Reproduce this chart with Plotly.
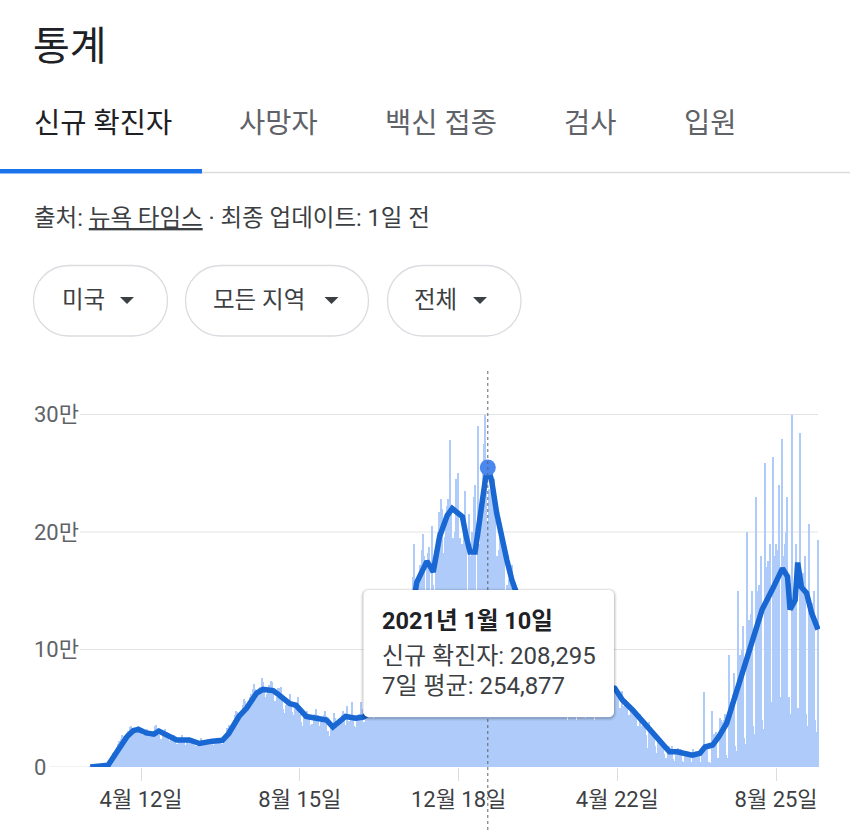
import plotly.graph_objects as go
import pandas as pd

# ------------------------------------------------------------------
# DATA  (US daily new cases, thousands; each row = one week Tue..Mon)
# ------------------------------------------------------------------
first_day = "2020-03-03"

wave_spring_2020 = [
    0.02, 0.03, 0.05, 0.07, 0.1, 0.13, 0.2,
    0.25, 0.3, 0.4, 0.55, 0.7, 0.9, 1.1,
    3, 5, 7, 9.5, 11.5, 13, 15,
    17, 20, 22, 24, 27, 26, 24,
    27, 29, 31, 34, 35, 31, 30,
    31, 32, 33, 35, 33, 28, 27,
    27, 29, 31, 32, 30, 26, 25,
    27, 28, 35, 36, 33, 27, 23,
    24, 27, 29, 32, 28, 25, 20,
    22, 24, 27, 27, 25, 20, 18,
    21, 21, 27, 25, 24, 19, 21,
    20, 22, 25, 24, 22, 19, 18,
    16, 19, 22, 25, 23, 19, 20,
    22, 21, 24, 23, 24, 20, 19,
    21, 22, 24, 25, 25, 20, 20,
]
wave_summer_2020 = [
    24, 26, 29, 33, 36, 32, 35,
    37, 40, 44, 48, 47, 42, 43,
    48, 53, 58, 56, 51, 48, 50,
    60, 62, 66, 71, 66, 60, 61,
    67, 68, 76, 72, 65, 60, 62,
    64, 70, 73, 72, 65, 56, 56,
    60, 67, 67, 68, 58, 49, 46,
    53, 55, 56, 62, 54, 47, 44,
    53, 52, 51, 60, 45, 38, 35,
    44, 46, 45, 48, 43, 34, 36,
    37, 43, 45, 49, 44, 34, 35,
    40, 42, 44, 48, 43, 31, 24,
    26, 35, 36, 46, 42, 34, 34,
    38, 38, 44, 48, 44, 36, 52,
    39, 39, 44, 55, 42, 35, 34,
]
wave_winter = [
    40, 44, 45, 55, 49, 35, 38,
    44, 51, 56, 58, 49, 45, 42,
    51, 59, 64, 70, 53, 48, 66,
    60, 62, 75, 82, 78, 58, 66,
    74, 80, 91, 100, 82, 70, 90,
    94, 105, 121, 130, 126, 106, 125,
    138, 143, 162, 190, 160, 134, 160,
    160, 172, 185, 198, 180, 142, 175,
    182, 187, 112, 205, 155, 140, 175,
    185, 200, 217, 228, 220, 182, 196,
    216, 222, 228, 278, 222, 190, 195,
    200, 245, 235, 250, 195, 185, 190,
    200, 235, 195, 105, 215, 150, 180,
    200, 230, 240, 145, 290, 160, 190,
    230, 255, 275, 300, 258, 208.295, 237,
    228, 235, 240, 245, 210, 180, 175,
    185, 195, 200, 190, 175, 145, 155,
    155, 160, 165, 172, 145, 118, 135,
    115, 120, 125, 135, 105, 90, 105,
    95, 95, 100, 105, 85, 70, 65,
    62, 65, 75, 78, 72, 58, 66,
]
wave_spring_2021 = [
    72, 75, 77, 75, 62, 50, 55,
    58, 67, 68, 66, 60, 42, 46,
    57, 58, 60, 63, 50, 40, 55,
    54, 59, 58, 61, 50, 40, 65,
    55, 85, 64, 68, 60, 42, 65,
    62, 68, 72, 68, 55, 40, 90,
    68, 75, 77, 81, 70, 47, 72,
    72, 75, 78, 72, 58, 42, 78,
    63, 62, 65, 60, 50, 34, 65,
    52, 55, 57, 55, 44, 28, 52,
    46, 48, 47, 45, 35, 21, 45,
    35, 37, 37, 34, 27, 16, 38,
    28, 28, 30, 27, 18, 12, 25,
    21, 22, 22, 20, 11, 8, 8,
    13, 18, 16, 18, 7, 5, 14,
    15, 16, 15, 15, 5, 4, 14,
    13, 13, 13, 12, 4, 3, 15.5,
]
wave_delta_2021 = [
    13, 14, 14, 13, 4, 3, 16,
    64, 14, 15, 18, 4, 3, 3,
    48, 28, 28, 30, 8, 6, 42,
    40, 38, 40, 45, 10, 8, 95,
    55, 58, 62, 80, 18, 14, 150,
    85, 95, 100, 120, 25, 20, 200,
    120, 125, 130, 150, 35, 28, 230,
    140, 150, 155, 180, 40, 32, 259,
    165, 170, 175, 190, 55, 45, 264,
    180, 190, 185, 240, 60, 45, 279,
    180, 190, 200, 230, 60, 45, 40,
    300, 150, 160, 190, 50, 35, 284,
    150, 165, 160, 180, 45, 35, 207,
    130, 140, 135, 150, 40, 30, 193,
]

avg_dates = [
    "2020-03-03", "2020-03-10", "2020-03-17", "2020-03-24", "2020-04-01", "2020-04-06",
    "2020-04-10", "2020-04-16", "2020-04-22", "2020-04-26", "2020-05-02", "2020-05-10",
    "2020-05-20", "2020-05-28", "2020-06-07", "2020-06-15", "2020-06-20", "2020-06-28",
    "2020-07-04", "2020-07-12", "2020-07-17", "2020-07-25", "2020-07-30", "2020-08-02",
    "2020-08-07", "2020-08-12", "2020-08-20", "2020-08-28", "2020-09-05", "2020-09-10",
    "2020-09-15", "2020-09-20", "2020-09-28", "2020-10-04", "2020-10-12", "2020-10-19",
    "2020-10-26", "2020-11-02", "2020-11-09", "2020-11-15", "2020-11-23", "2020-11-26",
    "2020-11-28", "2020-12-03", "2020-12-09", "2020-12-13", "2020-12-17", "2020-12-21",
    "2020-12-24", "2020-12-27", "2020-12-31", "2021-01-04", "2021-01-08", "2021-01-10",
    "2021-01-13", "2021-01-17", "2021-01-21", "2021-01-25", "2021-01-29", "2021-02-01",
    "2021-02-08", "2021-02-15", "2021-02-22", "2021-03-01", "2021-03-08", "2021-03-15",
    "2021-03-22", "2021-03-29", "2021-04-05", "2021-04-12", "2021-04-20", "2021-04-26",
    "2021-05-04", "2021-05-12", "2021-05-20", "2021-05-28", "2021-06-02", "2021-06-08",
    "2021-06-15", "2021-06-20", "2021-06-26", "2021-06-30", "2021-07-06", "2021-07-11",
    "2021-07-17", "2021-07-21", "2021-07-29", "2021-08-06", "2021-08-14", "2021-08-22",
    "2021-08-30", "2021-09-03", "2021-09-05", "2021-09-09", "2021-09-11", "2021-09-14",
    "2021-09-18", "2021-09-22", "2021-09-27",
]
avg_values = [
    0.0, 0.3, 1.5, 13, 26, 31,
    32, 29, 28, 30.5, 27, 23,
    23, 20, 22, 22.7, 28.5, 43,
    50, 63, 66, 65, 61, 58.5,
    54, 52.5, 43, 41.5, 40, 34,
    38.5, 43, 41.5, 42.5, 48, 58,
    68, 84, 115, 157, 175, 170,
    166, 196, 214, 220, 217, 213,
    196, 183, 183, 216, 244, 254.877,
    244, 216, 193, 176, 159, 150,
    115, 88, 68, 65, 60, 55,
    56, 63, 65, 70, 67, 57,
    48.5, 38.5, 28.7, 20, 13, 13,
    11.6, 10, 11.6, 17, 18.7, 26,
    37, 51, 77, 108, 134, 151,
    169, 162, 134, 142, 174, 153,
    148, 131, 117,
]

y_tick_vals = [0, 100, 200, 300]
y_tick_text = ["0", "10만", "20만", "30만"]
x_tick_vals = ["2020-04-12", "2020-08-15", "2020-12-18", "2021-04-22", "2021-08-25"]
x_tick_text = ["4월 12일", "8월 15일", "12월 18일", "4월 22일", "8월 25일"]

sel_date = "2021-01-10"
sel_title = "2021년 1월 10일"
sel_cases = "208,295"
sel_avg = 254.877

title_text = "통계"
tab_labels = ["신규 확진자", "사망자", "백신 접종", "검사", "입원"]
filter_labels = ["미국", "모든 지역", "전체"]

# ------------------------------------------------------------------
daily_k = wave_spring_2020 + wave_summer_2020 + wave_winter + wave_spring_2021 + wave_delta_2021
daily_dates = pd.date_range(first_day, periods=len(daily_k), freq="D")

FONT = "Roboto, 'Noto Sans CJK KR', 'Noto Sans', sans-serif"
W, H = 850, 830
L, R_EDGE, T, B = 33, 820, 400, 767
PW, PH = R_EDGE - L, B - T


def xp(px):
    return (px - L) / PW


def yp(py):
    return (B - py) / PH


def rrect(x0, y0, x1, y1, r):
    k = 0.5523 * r
    pts = [
        f"M{xp(x0 + r)},{yp(y0)}",
        f"L{xp(x1 - r)},{yp(y0)}",
        f"C{xp(x1 - r + k)},{yp(y0)} {xp(x1)},{yp(y0 + r - k)} {xp(x1)},{yp(y0 + r)}",
        f"L{xp(x1)},{yp(y1 - r)}",
        f"C{xp(x1)},{yp(y1 - r + k)} {xp(x1 - r + k)},{yp(y1)} {xp(x1 - r)},{yp(y1)}",
        f"L{xp(x0 + r)},{yp(y1)}",
        f"C{xp(x0 + r - k)},{yp(y1)} {xp(x0)},{yp(y1 - r + k)} {xp(x0)},{yp(y1 - r)}",
        f"L{xp(x0)},{yp(y0 + r)}",
        f"C{xp(x0)},{yp(y0 + r - k)} {xp(x0 + r - k)},{yp(y0)} {xp(x0 + r)},{yp(y0)}",
        "Z",
    ]
    return " ".join(pts)


fig = go.Figure()
fig.add_trace(go.Bar(
    x=daily_dates, y=daily_k,
    marker=dict(color="#aecbfa", line=dict(width=0)),
    hoverinfo="skip",
))
fig.add_trace(go.Scatter(
    x=avg_dates, y=avg_values, mode="lines",
    line=dict(color="#1967d2", width=5.5),
    hoverinfo="skip",
))
fig.add_trace(go.Scatter(
    x=[sel_date], y=[sel_avg], mode="markers",
    marker=dict(size=16, color="#4a87ee"),
    hoverinfo="skip",
))

# x range so that 2020-04-12 sits at pixel 141.1 and 1.27 px/day
px_per_day = 1.27
anchor = pd.Timestamp("2020-04-12")
x_start = anchor - pd.Timedelta(days=(141.1 - L) / px_per_day)
x_end = anchor + pd.Timedelta(days=(R_EDGE - 141.1) / px_per_day)

shapes = []
# gridlines
for v in y_tick_vals:
    shapes.append(dict(type="line", xref="paper", yref="y",
                       x0=xp(50 if v == 0 else 80), x1=xp(818), y0=v, y1=v,
                       line=dict(color="#e3e3e3", width=1), layer="below"))
# tab underline
shapes.append(dict(type="line", xref="paper", yref="paper", x0=xp(200), x1=xp(850),
                   y0=yp(172.5), y1=yp(172.5), line=dict(color="#dadce0", width=1.5)))
shapes.append(dict(type="rect", xref="paper", yref="paper", x0=xp(0), x1=xp(202),
                   y0=yp(173.5), y1=yp(169), fillcolor="#1a73e8", line=dict(width=0)))
# filter pills
pill_boxes = [(33.5, 167.5), (185.5, 368.5), (387.5, 521)]
tri_cx = [127, 331.5, 480]
for (a, b), tc in zip(pill_boxes, tri_cx):
    shapes.append(dict(type="path", xref="paper", yref="paper",
                       path=rrect(a, 265.5, b, 336, 35),
                       fillcolor="white", line=dict(color="#dadce0", width=1.3)))
    shapes.append(dict(type="path", xref="paper", yref="paper",
                       path=f"M{xp(tc - 7)},{yp(297)} L{xp(tc + 7)},{yp(297)} L{xp(tc)},{yp(304)} Z",
                       fillcolor="#3c4043", line=dict(width=0)))
# dotted hover line
shapes.append(dict(type="line", xref="x", yref="paper", x0=sel_date, x1=sel_date,
                   y0=yp(830), y1=yp(368), line=dict(color="#5f6368", width=1, dash="dot"),
                   layer="above"))
# tooltip card with soft shadow
for grow, alpha in [(3, 0.04), (2, 0.06), (1, 0.10)]:
    shapes.append(dict(type="path", xref="paper", yref="paper",
                       path=rrect(363.5 - grow, 590 - grow + 1, 614 + grow, 717 + grow + 1, 5 + grow),
                       fillcolor=f"rgba(0,0,0,{alpha})", line=dict(width=0), layer="above"))
shapes.append(dict(type="path", xref="paper", yref="paper",
                   path=rrect(363.5, 590, 614, 717, 5),
                   fillcolor="white", line=dict(width=0), layer="above"))

ann = []


def add_text(text, x, y, size, color, xanchor="left", bold=False, yref="paper"):
    ann.append(dict(text=f"<b>{text}</b>" if bold else text, x=x, y=y, xref="paper", yref=yref,
                    xanchor=xanchor, yanchor="middle", showarrow=False,
                    font=dict(family=FONT, size=size, color=color)))


add_text(title_text, xp(31), yp(46), 40, "#202124")
tab_x = [31.5, 236.5, 383, 562, 682]
for i, (lab, tx) in enumerate(zip(tab_labels, tab_x)):
    add_text(lab, xp(tx), yp(123), 28.5, "#202124" if i == 0 else "#5f6368")
add_text("출처: <span style='text-decoration:underline'>뉴욕 타임스</span> · 최종 업데이트: 1일 전",
         xp(31.5), yp(218), 23.5, "#3c4043")
for lab, cx in zip(filter_labels, [83, 258.5, 435.5]):
    add_text(lab, xp(cx), yp(300), 23.5, "#3c4043", xanchor="center")
for v, t in zip(y_tick_vals, y_tick_text):
    add_text(t, xp(31.5), v, 22, "#5f6368", yref="y")
add_text(sel_title, xp(379.5), yp(621), 23.5, "#202124", bold=True)
add_text(f"신규 확진자: {sel_cases}", xp(379.5), yp(656), 24, "#3c4043")
add_text(f"7일 평균: {sel_avg * 1000:,.0f}", xp(379.5), yp(686), 24, "#3c4043")

fig.update_layout(
    width=W, height=H,
    margin=dict(l=L, r=W - R_EDGE, t=T, b=H - B, pad=0),
    paper_bgcolor="white", plot_bgcolor="white",
    showlegend=False, bargap=0, hovermode=False,
    font=dict(family=FONT),
    shapes=shapes, annotations=ann,
    xaxis=dict(type="date", range=[x_start, x_end], showgrid=False, zeroline=False,
               showline=False, ticks="outside", ticklen=13, tickwidth=1, tickcolor="#dadce0",
               tickvals=x_tick_vals, ticktext=x_tick_text,
               tickfont=dict(family=FONT, size=22, color="#3c4043"), fixedrange=True),
    yaxis=dict(range=[0, 312.34], showgrid=False, zeroline=False, showline=False,
               showticklabels=False, ticks="", fixedrange=True),
)

fig.write_html("out.html", config={"displayModeBar": False})
